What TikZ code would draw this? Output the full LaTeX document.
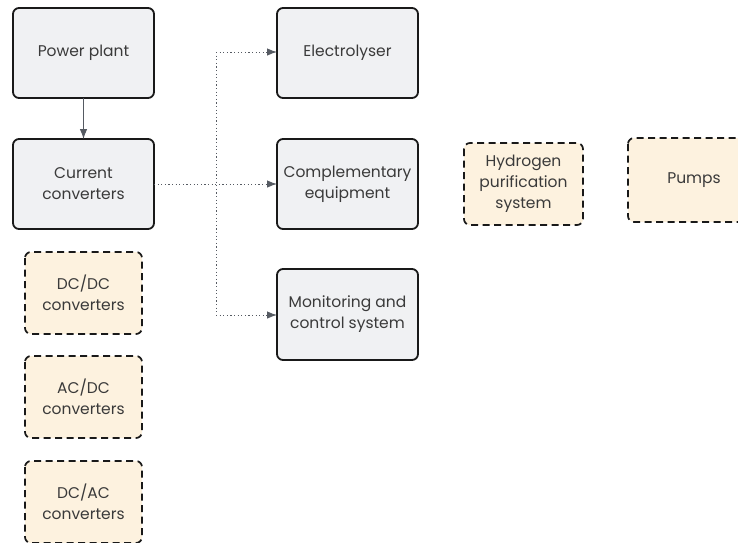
\documentclass[tikz,border=0pt]{standalone}
\usepackage{fontspec}
\setmainfont{Poppins}
\usetikzlibrary{arrows.meta}
\definecolor{boxgray}{HTML}{F0F1F3}
\definecolor{boxcream}{HTML}{FDF2DF}
\definecolor{inkgray}{HTML}{3A3A3A}
\definecolor{linkgray}{HTML}{555A62}
\begin{document}
\begin{tikzpicture}[x=1pt,y=-1pt,
  every node/.style={font=\fontsize{15.5}{21}\selectfont\color{inkgray}, align=center, inner sep=0pt},
  mainbox/.style={draw=black!90, line width=1.8pt, rounded corners=6pt, fill=boxgray},
  optbox/.style={draw=black!90, line width=1.7pt, rounded corners=6pt, fill=boxcream, dash pattern=on 7pt off 4.5pt},
  solidlink/.style={draw=linkgray, line width=0.9pt, -{Latex[length=10pt,width=7.5pt]}},
  dottedlink/.style={draw=linkgray, line width=0.9pt, dash pattern=on 1.2pt off 2.4pt},
  dottedarrow/.style={dottedlink, -{Latex[length=10pt,width=7.5pt]}}
]
\useasboundingbox (0,0) rectangle (738,542);
\clip (0,0) rectangle (738,542);

% main chain
\draw[mainbox] (13,8) rectangle (154,98);
\node (pp) at (83.5,53) {Power plant};
\draw[mainbox] (13,139) rectangle (154,229);
\node (cc) at (83.5,184) {Current\\converters};

\draw[mainbox] (277,8) rectangle (418,98);
\node (el) at (347.5,53) {Electrolyser};
\draw[mainbox] (277,139) rectangle (418,229);
\node (ce) at (347.5,184) {Complementary\\equipment};
\draw[mainbox] (277,269) rectangle (418,360);
\node (mc) at (347.5,314.5) {Monitoring and\\control system};

% optional components
\draw[optbox] (25,252) rectangle (142,334);
\node (dcdc) at (83.5,293) {DC/DC\\converters};
\draw[optbox] (25,356) rectangle (142,438);
\node (acdc) at (83.5,397) {AC/DC\\converters};
\draw[optbox] (25,461) rectangle (142,543);
\node (dcac) at (83.5,502) {DC/AC\\converters};
\draw[optbox] (464,143) rectangle (583,225);
\node (hp) at (523.5,184) {Hydrogen\\purification\\system};
\draw[optbox] (628,138) rectangle (760,222);
\node (pu) at (694,180) {Pumps};

% connectors
\coordinate (ppb) at (83.5,98);
\coordinate (cct) at (83.5,139);
\draw[solidlink] (ppb) -- (cct);

\coordinate (ccr) at (154,184);
\coordinate (cel) at (277,184);
\coordinate (split) at (216,184);
\coordinate (up) at (216,52);
\coordinate (down) at (216,315);
\coordinate (ell) at (277,52);
\coordinate (mcl) at (277,315);
\draw[dottedarrow] (ccr) -- (cel);
\draw[dottedlink] (up) -- (down);
\draw[dottedarrow] (up) -- (ell);
\draw[dottedarrow] (down) -- (mcl);
\end{tikzpicture}
\end{document}
